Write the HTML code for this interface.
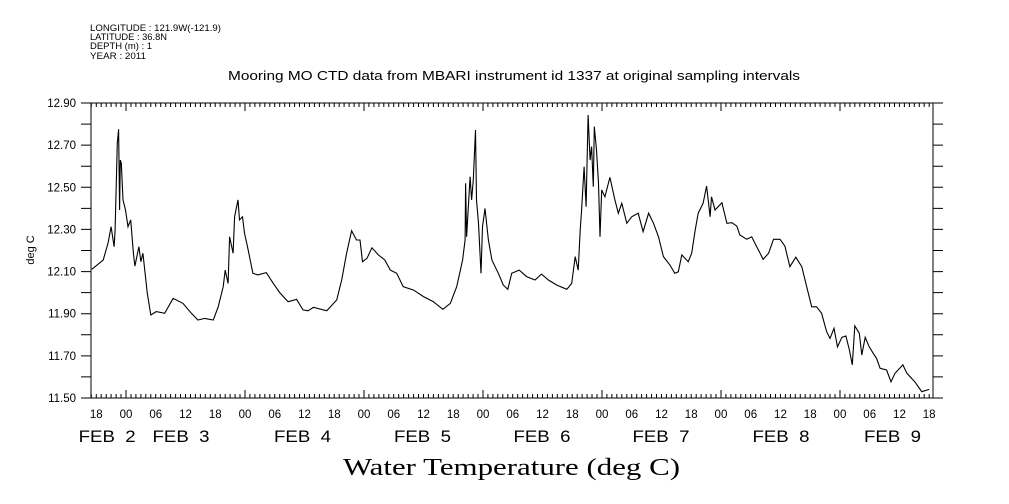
<!DOCTYPE html>
<html><head><meta charset="utf-8"><style>
html,body{margin:0;padding:0;background:#fff;}
svg{display:block;font-family:"Liberation Sans",sans-serif;}
</style></head><body>
<svg id="chart" width="1009" height="504" viewBox="0 0 1009 504" xmlns="http://www.w3.org/2000/svg">
<g font-size="9" fill="#000">
<text x="90" y="31" textLength="131" lengthAdjust="spacingAndGlyphs">LONGITUDE : 121.9W(-121.9)</text>
<text x="90" y="40" textLength="77" lengthAdjust="spacingAndGlyphs">LATITUDE : 36.8N</text>
<text x="90" y="49" textLength="62" lengthAdjust="spacingAndGlyphs">DEPTH (m) : 1</text>
<text x="90" y="59" textLength="56" lengthAdjust="spacingAndGlyphs">YEAR : 2011</text>
</g>
<text x="228" y="80" textLength="572" lengthAdjust="spacingAndGlyphs" font-size="12.5">Mooring MO CTD data from MBARI instrument id 1337 at original sampling intervals</text>
<text x="343" y="475" textLength="337" lengthAdjust="spacingAndGlyphs" font-family="Liberation Serif,serif" font-size="24">Water Temperature (deg C)</text>
<text transform="translate(34,250) rotate(-90)" text-anchor="middle" font-size="11">deg C</text>
<g id="axes"></g>
<path id="series" fill="none" stroke="#000" stroke-width="1.1"/>
</svg>
<script>
const hours = [-0.9,1.4,2.4,3.0,3.6,3.8,4.25,4.5,4.7,4.85,5.05,5.4,5.9,6.4,6.95,7.5,7.8,8.6,9.0,9.4,10.3,11.0,12.1,13.8,15.5,17.5,19.2,20.5,21.9,23.6,24.6,25.6,26.0,26.6,26.9,27.6,27.9,28.6,28.9,29.5,29.9,30.5,31.6,32.6,34.3,35.7,37.0,38.7,40.4,41.7,42.7,43.8,46.5,48.5,49.5,50.5,51.5,52.5,53.2,53.7,54.6,55.6,56.9,58.2,59.3,60.6,61.9,64.0,66.0,68.0,69.9,71.4,72.7,73.9,74.4,74.5,74.7,75.4,75.7,76.05,76.5,76.7,77.1,77.6,77.9,78.4,79.1,79.8,81.1,82.1,83.0,83.8,85.3,86.8,88.5,89.8,91.2,92.9,94.9,95.9,96.6,97.2,97.6,97.9,98.4,98.8,99.2,99.6,99.9,100.25,100.45,100.9,101.3,101.6,101.95,102.6,103.6,104.6,105.3,106.0,107.0,108.0,109.3,110.3,111.4,112.4,113.4,114.4,115.7,116.7,117.4,118.1,119.4,120.1,120.8,121.4,122.4,123.1,123.8,124.1,124.8,126.2,127.2,128.2,129.2,129.8,131.2,132.2,133.2,133.9,134.5,135.6,136.6,137.9,138.9,139.9,141.1,142.3,143.3,144.3,145.3,146.3,147.3,148.0,148.8,149.5,150.4,151.2,151.9,152.5,153.0,153.9,154.4,155.1,155.9,156.7,157.4,158.1,159.4,160.3,161.1,162.7,163.5,165.1,166.5,168.0];
const temps = [12.111,12.155,12.236,12.313,12.218,12.297,12.709,12.775,12.392,12.629,12.615,12.440,12.392,12.313,12.345,12.187,12.126,12.218,12.147,12.187,11.997,11.894,11.910,11.902,11.973,11.949,11.902,11.870,11.878,11.870,11.933,12.028,12.107,12.044,12.265,12.187,12.360,12.440,12.345,12.360,12.282,12.218,12.092,12.084,12.095,12.044,12.000,11.957,11.968,11.918,11.914,11.930,11.914,11.965,12.060,12.187,12.294,12.250,12.250,12.147,12.163,12.213,12.179,12.155,12.107,12.092,12.028,12.012,11.981,11.957,11.921,11.949,12.028,12.155,12.250,12.519,12.265,12.550,12.440,12.535,12.772,12.440,12.329,12.092,12.313,12.400,12.250,12.155,12.092,12.036,12.016,12.092,12.107,12.076,12.060,12.088,12.060,12.036,12.016,12.044,12.171,12.107,12.297,12.392,12.598,12.408,12.843,12.629,12.693,12.503,12.788,12.677,12.519,12.265,12.487,12.455,12.547,12.440,12.377,12.424,12.329,12.360,12.377,12.289,12.377,12.329,12.265,12.171,12.131,12.092,12.099,12.179,12.147,12.187,12.297,12.377,12.424,12.506,12.360,12.455,12.392,12.427,12.329,12.332,12.316,12.274,12.253,12.265,12.218,12.187,12.158,12.187,12.253,12.253,12.221,12.123,12.168,12.123,12.028,11.933,11.933,11.902,11.815,11.783,11.831,11.743,11.788,11.794,11.728,11.657,11.842,11.807,11.704,11.788,11.743,11.712,11.688,11.641,11.633,11.577,11.617,11.657,11.617,11.577,11.530,11.541];
const yTickValues = [11.50,11.70,11.90,12.10,12.30,12.50,12.70,12.90];
const xTickLabels = ["18","00","06","12","18","00","06","12","18","00","06","12","18","00","06","12","18","00","06","12","18","00","06","12","18","00","06","12","18"];
const dateLabels = ["FEB  2","FEB  3","FEB  4","FEB  5","FEB  6","FEB  7","FEB  8","FEB  9"];
const dateHours = [2.1,17.0,41.5,65.7,89.8,113.8,138,160.5];

const L=91,R=933,T=103,B=398, yMin=11.5, yMax=12.9;
const x = h => 96.25 + h*4.958;
const y = v => B - (v-yMin)/(yMax-yMin)*(B-T);
const NS="http://www.w3.org/2000/svg";
const axes=document.getElementById('axes');
function el(tag,attrs,parent){const e=document.createElementNS(NS,tag);for(const k in attrs)e.setAttribute(k,attrs[k]);(parent||axes).appendChild(e);return e;}
let d=`M${L},${T}H${R}V${B}H${L}Z`;
for(let h=-1;h<=168;h++){const xx=x(h);if(xx<L||xx>R)continue;const major=((h+18)%24===0);const len=major?8:4;d+=`M${xx.toFixed(1)},${B}v${-len}M${xx.toFixed(1)},${T}v${len}`;}
for(let v=11.5;v<=12.901;v+=0.1){const yy=y(v).toFixed(1);d+=`M${L},${yy}h-10M${R},${yy}h10`;}
const ax=el('path',{d:d,fill:'none',stroke:'#000','stroke-width':'1'});


yTickValues.forEach(v=>{
  const t=el('text',{x:76,y:y(v)+4,'text-anchor':'end','font-size':'11.5'});
  t.textContent=v.toFixed(2);
  
  
});
xTickLabels.forEach((s,i)=>{
  const t=el('text',{x:x(i*6),y:418,'text-anchor':'middle','font-size':'11.5'});
  t.textContent=s;
  
  
});
dateLabels.forEach((s,i)=>{
  const t=el('text',{x:x(dateHours[i])-28,y:442,'font-size':'17',textLength:'57',lengthAdjust:'spacingAndGlyphs'});
  t.style.whiteSpace='pre';
  t.textContent=s;
  
  
});
let p='';
hours.forEach((h,i)=>{p+=(i?'L':'M')+Math.max(L,x(h)).toFixed(1)+','+y(temps[i]).toFixed(1);});
document.getElementById('series').setAttribute('d',p);
</script>
</body></html>
